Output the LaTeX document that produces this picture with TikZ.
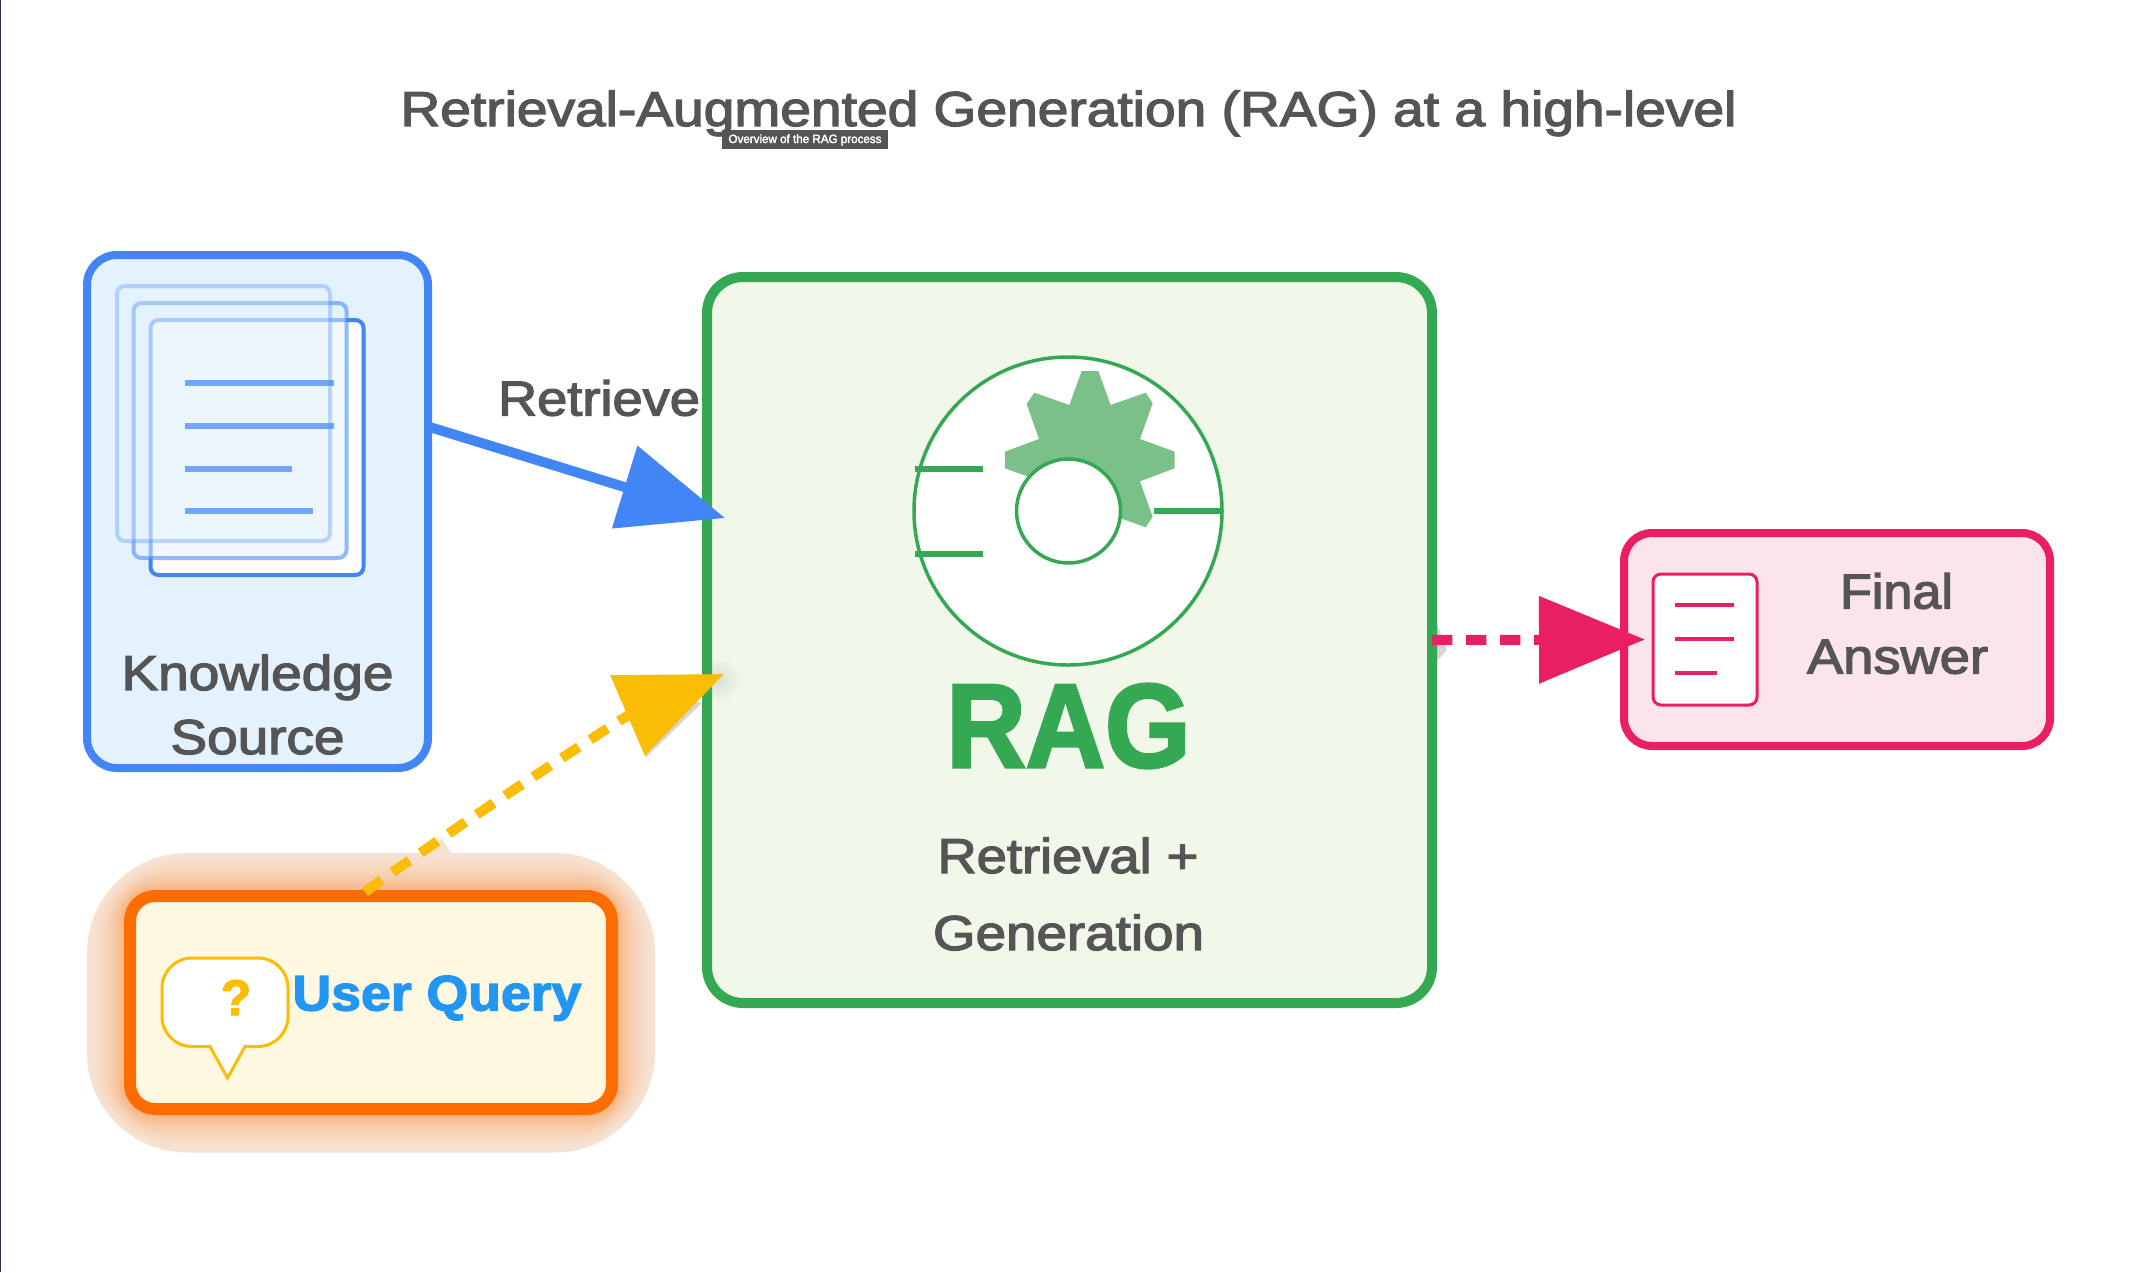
\documentclass[tikz,border=0pt]{standalone}
\usepackage{fontspec}
\usepackage{graphicx}
\setmainfont{Liberation Sans}[FakeBold=2.5,BoldFeatures={FakeBold=2.5}]
\usetikzlibrary{arrows.meta,calc}
\definecolor{ink}{HTML}{555555}
\definecolor{kbblue}{HTML}{4285F4}
\definecolor{kbfill}{HTML}{E3F2FD}
\definecolor{raggreen}{HTML}{34A853}
\definecolor{ragfill}{HTML}{F1F8E9}
\definecolor{gearfill}{HTML}{7BC088}
\definecolor{qorange}{HTML}{FF6D00}
\definecolor{qfill}{HTML}{FFF8E1}
\definecolor{qyellow}{HTML}{FBBC04}
\definecolor{qblue}{HTML}{2196F3}
\definecolor{apink}{HTML}{E91E63}
\definecolor{afill}{HTML}{FCE4EC}
\definecolor{edge}{HTML}{2A2A5A}
\newcommand{\tw}[2]{\resizebox{#1}{\height}{#2}}
\newcommand{\fs}[1]{\fontsize{#1}{#1}\selectfont}
\tikzset{
  box/.style={draw,rounded corners=#1,outer sep=0pt,inner sep=0pt},
  lbl/.style={inner sep=0pt,outer sep=0pt,anchor=base,text=ink,font=\fs{49}},
  page/.style={rounded corners=8pt,line width=4pt,inner sep=0pt,outer sep=0pt,minimum width=213pt,minimum height=255pt},
  txtline/.style={line width=6pt,kbblue,opacity=.7},
  ansline/.style={line width=4pt,apink},
  gearline/.style={line width=5.5pt,raggreen},
}
\begin{document}
\begin{tikzpicture}[x=1pt,y=-1pt]
\useasboundingbox (0,0) rectangle (2136,1272);
\fill[white] (0,0) rectangle (2136,1272);
\draw[edge,line width=1.5pt] (0.7,0) -- (0.7,1272);

% title
\node[lbl] (title) at (1068.5,126) {\tw{1336pt}{Retrieval-Augmented Generation (RAG) at a high-level}};
\node[fill=ink,inner sep=0pt,minimum width=166pt,minimum height=19pt,outer sep=0pt] (tip) at (805,139.5) {};
\node[lbl,text=white,font=\fs{12}] (tiptext) at (805,143) {\tw{153pt}{Overview of the RAG process}};

% knowledge source
\node[box=30pt,draw=kbblue,fill=kbfill,line width=8pt,minimum width=341pt,minimum height=513pt] (kb) at (257.5,511.5) {};
\node[page,draw=kbblue,fill=white] (p3) at (257,447.5) {};
\node[page,draw=kbblue,fill=kbfill,draw opacity=.55,fill opacity=.5] (p2) at (240,430.5) {};
\node[page,draw=kbblue,fill=kbfill,draw opacity=.3,fill opacity=.3] (p1) at (223.5,413.5) {};
\draw[txtline] (184.7,383) -- (334,383);
\draw[txtline] (184.7,426) -- (334,426);
\draw[txtline] (184.7,469) -- (291.5,469);
\draw[txtline] (184.7,511) -- (313,511);
\node[lbl] (k1) at (257.5,690) {\tw{272pt}{Knowledge}};
\node[lbl] (k2) at (257.5,754) {\tw{174pt}{Source}};

% glow + query
\foreach \i in {0,...,30}{
  \pgfmathsetmacro\g{\i/30}
  \pgfmathsetmacro\d{37-37*\g}
  \pgfmathsetmacro\p{15+31*pow(\g,1.6)}
  \pgfmathsetmacro\r{28+72*(1-\g)}
  \fill[qorange!\p!white!97!black,rounded corners=\r pt] (124-\d,890-\d) rectangle (618+\d,1115.5+\d);
}
\fill[qorange!15!white!97!black] (425,854) -- (441,838) -- (452,854) -- cycle;
\node[box=25pt,draw=qorange,fill=qfill,line width=12pt,minimum width=482pt,minimum height=213pt] (query) at (371,1002.5) {};
\draw[qyellow,line width=3pt,fill=white]
  (192,958) -- (258,958) arc[start angle=-90,end angle=0,radius=30] -- (288,1016.5)
  arc[start angle=0,end angle=90,radius=30] -- (245,1046.5) -- (227.5,1078) -- (210,1046.5) -- (192,1046.5)
  arc[start angle=90,end angle=180,radius=30] -- (162,988) arc[start angle=180,end angle=270,radius=30] -- cycle;
\node[lbl,text=qyellow,font=\bfseries\fs{50}] (qmark) at (236,1015) {?};
\node[lbl,text=qblue,font=\bfseries\fs{50}] (qtext) at (437,1010.5) {\tw{289pt}{User Query}};

% RAG
\node[box=36pt,draw=raggreen,fill=ragfill,line width=10pt,minimum width=725pt,minimum height=726pt] (rag) at (1069.5,640) {};
\node[circle,draw=raggreen,fill=white,line width=3.5pt,minimum size=308pt,inner sep=0pt,outer sep=0pt] (outer) at (1068,511) {};
\begin{scope}[shift={(880,340)},x=0.33333pt,y=-0.33333pt]
  \fill[gearfill]
    (605,93)--(655,93)--(692,195)--(797,158)--(818,190)--(780,297)--(884,335)--(884,385)--(780,424)--(818,530)--(797,562)--(722,535)--(630,600)--(500,500)--(445,410)--(375,385)--(375,335)--(477,297)--(440,192)--(463,158)--(568,195)--cycle;
\end{scope}
\node[circle,draw=raggreen,fill=white,line width=3.5pt,minimum size=104pt,inner sep=0pt,outer sep=0pt] (hub) at (1068.5,511) {};
\draw[gearline] (915,469) -- (983,469);
\draw[gearline] (915,554) -- (983,554);
\draw[gearline] (1154,511) -- (1223,511);
\node[lbl,text=raggreen,font=\bfseries\fs{119}] (ragt) at (1068.5,767) {\tw{244pt}{RAG}};
\node[lbl] (r1) at (1068,873) {\tw{261pt}{Retrieval +}};
\node[lbl] (r2) at (1068.5,950) {\tw{271pt}{Generation}};
\node[lbl] (ret) at (599,415.5) {\tw{202pt}{Retrieve}};

% final answer
\node[box=28pt,draw=apink,fill=afill,line width=8pt,minimum width=426pt,minimum height=213pt] (ans) at (1837,639.5) {};
\node[draw=apink,fill=white,line width=3pt,rounded corners=8pt,inner sep=0pt,outer sep=0pt,minimum width=104pt,minimum height=131pt] (doc) at (1705,639.5) {};
\draw[ansline] (1675,605) -- (1734,605);
\draw[ansline] (1675,639) -- (1734,639);
\draw[ansline] (1675,673) -- (1717,673);
\node[lbl] (a1) at (1896.5,608.5) {\tw{113pt}{Final}};
\node[lbl] (a2) at (1897.5,673.5) {\tw{181pt}{Answer}};

% arrowhead shadows
\begin{scope}
  \clip (712,660) rectangle (745,710);
  \foreach \rr in {4,7,...,22}{\fill[black,opacity=.012] (718,680) circle[radius=\rr];}
\end{scope}
\fill[black,opacity=.16] (613,678.5) -- (646,757.5) -- (702,703) -- cycle;
\fill[black,opacity=.16] (1539,600) -- (1539,685) -- (1620,642) -- cycle;
\fill[black,opacity=.16] (1437,624) -- (1447,650) -- (1437,661) -- cycle;

% connectors
\coordinate (kbout) at ([yshift=85pt]kb.east);
\coordinate (ragin1) at ([xshift=18pt,yshift=122pt]rag.west);
\coordinate (ragin2) at ([xshift=17pt,yshift=-34pt]rag.west);
\coordinate (qout) at ([xshift=-6pt,yshift=4pt]query.north);
\coordinate (ansin) at ([xshift=21pt]ans.west);
\draw[kbblue,line width=10pt,-{Triangle[length=105pt,width=84pt]}] (kbout) -- (ragin1);
\draw[qyellow,line width=10pt,dash pattern=on 20.4pt off 13.6pt,-{Triangle[length=105pt,width=85pt]}]
  (qout) .. controls (450,830) and (624,717) .. (ragin2);
\draw[apink,line width=10pt,dash pattern=on 20.4pt off 13.6pt,-{Triangle[length=106pt,width=85pt]}] (rag.east) -- (ansin);
\end{tikzpicture}
\end{document}
